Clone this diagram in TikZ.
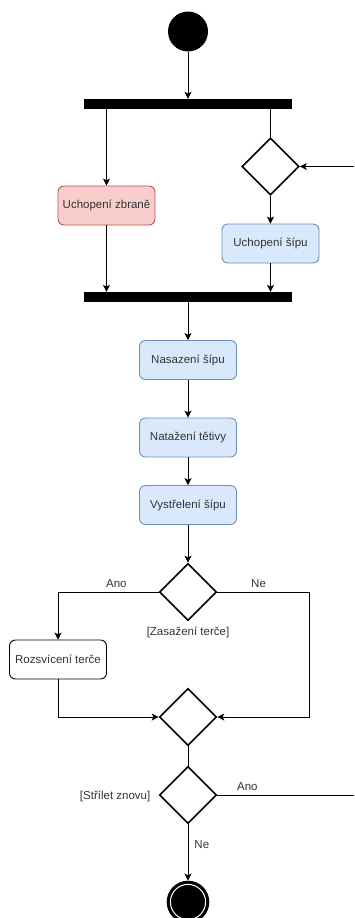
\documentclass[tikz,border=0pt]{standalone}
\usepackage{fontspec}
\setmainfont{Liberation Sans}
\usetikzlibrary{shapes.geometric,arrows.meta,calc}
\definecolor{txt}{HTML}{333333}
\definecolor{redfill}{HTML}{F8CECC}
\definecolor{redline}{HTML}{B85450}
\definecolor{bluefill}{HTML}{DAE8FC}
\definecolor{blueline}{HTML}{6C8EBF}
\tikzset{
  base/.style={font=\fontsize{11.5}{13}\selectfont, text=txt},
  action/.style={base, rectangle, rounded corners=6pt, minimum width=97pt,
    minimum height=39pt, inner sep=0pt, line width=0.9pt},
  bluebox/.style={action, draw=blueline, fill=bluefill},
  redbox/.style={action, draw=redline, fill=redfill},
  plainbox/.style={action, draw=black, fill=white},
  bar/.style={rectangle, fill=black, minimum width=208pt, minimum height=10pt, inner sep=0pt},
  choice/.style={diamond, draw=black, line width=1.6pt, fill=white,
    minimum width=57pt, minimum height=57pt, inner sep=0pt},
  flow/.style={draw=black, line width=0.9pt},
  arr/.style={flow, -{Stealth[length=7pt,width=7pt,inset=1.8pt]}},
  lbl/.style={base, inner sep=0pt},
}
\begin{document}
\begin{tikzpicture}[x=1pt,y=-1pt]
\useasboundingbox (0,0) rectangle (354,918);

% initial node, fork, parallel branches and join
\node[circle, fill=black, minimum size=40pt, inner sep=0pt] (start) at (188,31.5) {};
\node[bar] (fork) at (188,104) {};
\node[redbox] (grab) at (106.5,205.5) {Uchopení zbraně};
\node[choice] (pick) at (270.5,166.5) {};
\node[bluebox] (arrow) at (270.5,243.5) {Uchopení šípu};
\node[bar] (join) at (188,297) {};

% sequential shooting steps
\node[bluebox] (nock) at (188,360) {Nasazení šípu};
\node[bluebox] (draw) at (188,437.5) {Natažení tětivy};
\node[bluebox] (shoot) at (188,505) {Vystřelení šípu};

% hit decision and merge
\node[choice] (hit) at (188,592) {};
\node[lbl] (hitlbl) at (188,632) {[Zasažení terče]};
\node[plainbox] (light) at (58,659.5) {Rozsvícení terče};
\node[choice] (merge) at (188,717) {};
\node[choice] (again) at (188,795) {};
\node[lbl, anchor=east] (againlbl) at (150.5,796) {[Střílet znovu]};

% final node
\node[circle, fill=black, minimum size=42.6pt, inner sep=0pt] (end) at (188,902) {};
\draw[white, line width=1pt] (end.center) circle (17.6pt);

% loop ends at the right margin
\coordinate (loopin) at (354,166.5);
\coordinate (loopout) at (354,795);
\coordinate (leftturn) at (light.north |- hit.west);
\coordinate (rightturn) at (309,592);

% connectors
\draw[arr] (start) -- (fork.north);
\draw[arr] (grab |- fork.south) -- (grab.north);
\draw[flow] (pick |- fork.south) -- (pick.north);
\draw[arr] (loopin) -- (pick.east);
\draw[arr] (pick.south) -- (arrow.north);
\draw[arr] (grab.south) -- (grab |- join.north);
\draw[arr] (arrow.south) -- (arrow |- join.north);
\draw[arr] (join.south) -- (nock.north);
\draw[arr] (nock.south) -- (draw.north);
\draw[arr] (draw.south) -- (shoot.north);
\draw[arr] (shoot.south) -- (hit.north);
\draw[arr] (hit.west) -- node[lbl, pos=0.42, above=4pt] {Ano} (leftturn) -- (light.north);
\draw[arr] (hit.east) -- node[lbl, pos=0.45, above=4pt] {Ne} (rightturn) |- (merge.east);
\draw[arr] (light.south) |- (merge.west);
\draw[flow] (merge.south) -- (again.north);
\draw[flow] (again.east) -- node[lbl, pos=0.22, above=4pt] {Ano} (loopout);
\draw[arr] (again.south) -- node[lbl, pos=0.36, right=6pt] {Ne} (end.north);
\end{tikzpicture}
\end{document}
